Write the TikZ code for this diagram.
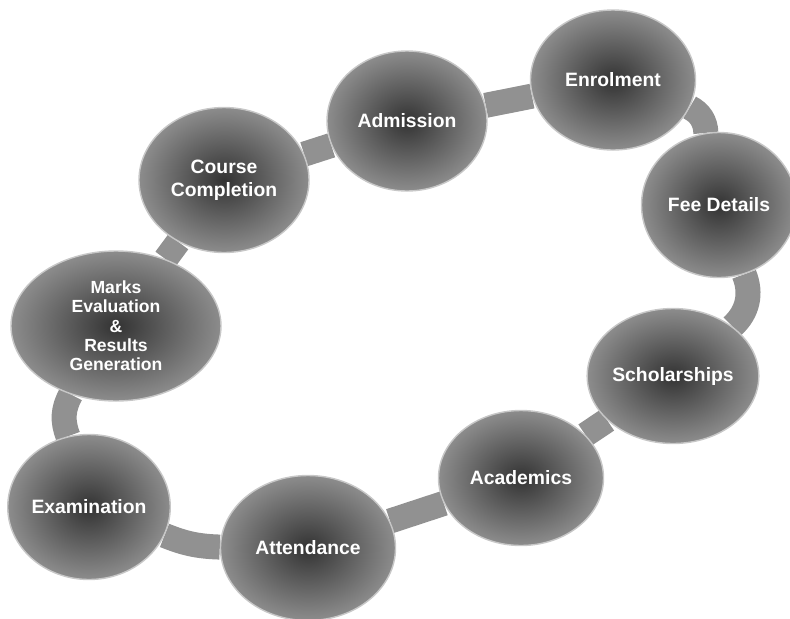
\documentclass[tikz,border=0pt]{standalone}
\usepackage{fontspec}
\setsansfont{Liberation Sans}
\usetikzlibrary{shapes.geometric,backgrounds}

\tikzset{
  ball/.style={ellipse, inner sep=0pt, shading=radial, inner color=black!80,
    outer color=black!45, draw=black!22, line width=0.8pt, text=white,
    font=\sffamily\bfseries\fontsize{11}{13}\selectfont, align=center},
  band/.style={draw=black!43, line width=5mm},
}

\begin{document}
\begin{tikzpicture}[x=0.2mm, y=-0.2mm]
\useasboundingbox (0,0) rectangle (790,618);
\node [ball, minimum width=32mm, minimum height=28mm] (admission) at (407,121) {Admission};
\node [ball, minimum width=33mm, minimum height=28mm] (enrolment) at (613,80) {Enrolment};
\node [ball, minimum width=31mm, minimum height=29mm] (fee) at (719,205) {Fee Details};
\node [ball, minimum width=33mm, minimum height=27mm] (scholar) at (673,376) {Scholarships};
\node [ball, minimum width=33mm, minimum height=27mm] (academics) at (521,478) {Academics};
\node [ball, minimum width=35mm, minimum height=29mm] (attendance) at (308,548) {Attendance};
\node [ball, minimum width=32mm, minimum height=29mm] (exam) at (89,507) {Examination};
\node [ball, minimum width=42mm, minimum height=30mm,
  font=\sffamily\bfseries\fontsize{10}{11}\selectfont] (marks) at (116,326)
  {Marks\\Evaluation\\\&\\Results\\Generation};
\node [ball, minimum width=34mm, minimum height=29mm] (course) at (224,180) {Course\\Completion};
% the ring behind the balls
\begin{scope}[on background layer]
\draw [band] (course) -- (admission);
\draw [band] (admission) -- (enrolment);
\draw [band] (enrolment) to [bend left=30] (fee);
\draw [band] (fee) to [bend left=35] (scholar);
\draw [band] (scholar) -- (academics);
\draw [band] (academics) -- (attendance);
\draw [band] (attendance) to [bend left=10] (exam);
\draw [band] (exam) to [bend left=25] (marks);
\draw [band] (marks) -- (course);
\end{scope}
\end{tikzpicture}
\end{document}
